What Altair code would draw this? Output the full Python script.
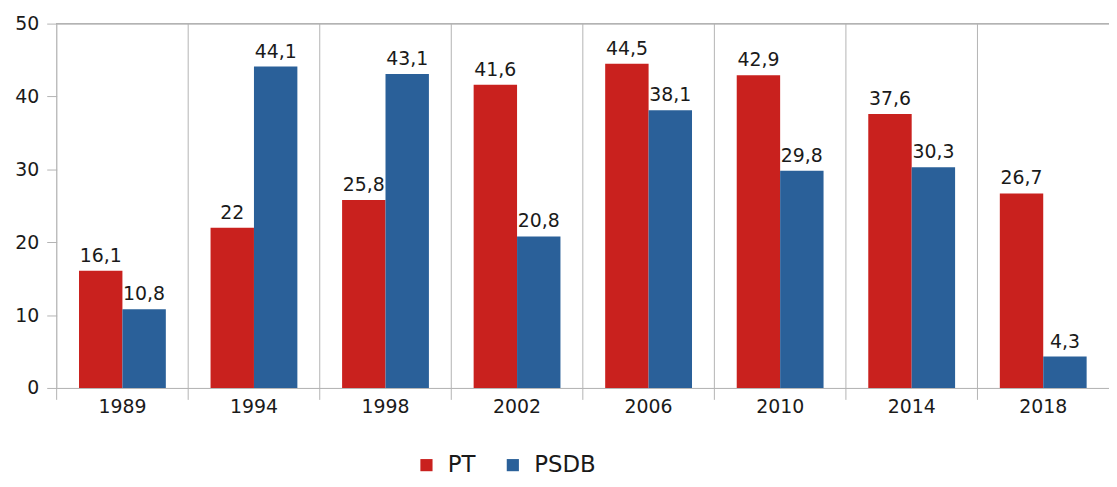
import altair as alt
import pandas as pd

years = ["1989", "1994", "1998", "2002", "2006", "2010", "2014", "2018"]
pt = [16.1, 22, 25.8, 41.6, 44.5, 42.9, 37.6, 26.7]
psdb = [10.8, 44.1, 43.1, 20.8, 38.1, 29.8, 30.3, 4.3]
parties = ["PT", "PSDB"]
colors = ["#C9211E", "#2A6099"]

rows = []
for y, a, b in zip(years, pt, psdb):
    rows.append({"year": y, "party": "PT", "value": a, "label": f"{a:g}".replace(".", ",")})
    rows.append({"year": y, "party": "PSDB", "value": b, "label": f"{b:g}".replace(".", ",")})
df = pd.DataFrame(rows)
grid_df = pd.DataFrame({"year": years})

W = 1060
H = 367
FONT = "DejaVu Sans"
GRAY = "#b3b3b3"
TXT = "#1a1a1a"
FS = 19

xscale = alt.Scale(domain=years, paddingInner=0.34, paddingOuter=0.17)
yscale = alt.Scale(domain=[0, 50])
xaxis = alt.Axis(title=None, ticks=False, labelAngle=0, labelPadding=10,
                 labelFontSize=FS, labelFont=FONT, labelColor=TXT,
                 domainColor=GRAY, grid=False)
offscale = alt.Scale(domain=parties, paddingInner=0, paddingOuter=0)

grid = alt.Chart(grid_df).mark_rule(color=GRAY, strokeWidth=1, xOffset=-W / 8 / 2).encode(
    x=alt.X("year:N", scale=xscale, sort=years, axis=xaxis),
    y=alt.value(0),
    y2=alt.value(H + 12),
)

top = alt.Chart(grid_df).mark_rule(color=GRAY, strokeWidth=1).encode(
    x=alt.value(0), x2=alt.value(W), y=alt.value(0)
)

bars = alt.Chart(df).mark_bar().encode(
    x=alt.X("year:N", scale=xscale, sort=years, axis=xaxis),
    xOffset=alt.XOffset("party:N", sort=parties, scale=offscale),
    y=alt.Y("value:Q", scale=yscale,
            axis=alt.Axis(title=None, values=[0, 10, 20, 30, 40, 50], domain=False, grid=False,
                          tickColor=GRAY, tickSize=10, labelPadding=8, labelFontSize=FS,
                          labelFont=FONT, labelColor=TXT)),
    color=alt.Color("party:N", sort=parties, scale=alt.Scale(domain=parties, range=colors),
                    legend=alt.Legend(title=None, orient="none", direction="horizontal",
                                      legendX=361, legendY=433, symbolType="square",
                                      symbolSize=150, symbolStrokeWidth=0,
                                      labelFontSize=23, labelFont=FONT, labelColor=TXT,
                                      labelOffset=10, columnPadding=26)),
)

labels = alt.Chart(df).mark_text(baseline="bottom", dy=-5, fontSize=FS, font=FONT, color=TXT).encode(
    x=alt.X("year:N", scale=xscale, sort=years, axis=xaxis),
    xOffset=alt.XOffset("party:N", sort=parties, scale=offscale),
    y=alt.Y("value:Q", scale=yscale),
    text="label:N",
)

chart = alt.layer(grid, top, bars, labels).properties(
    width=W, height=H,
    autosize=alt.AutoSizeParams(type="none"),
    padding={"left": 49, "top": 14, "right": 0, "bottom": 90},
).configure_view(stroke=None).configure(background="white")

chart.save("out.html", embed_options={"renderer": "svg", "actions": False})
